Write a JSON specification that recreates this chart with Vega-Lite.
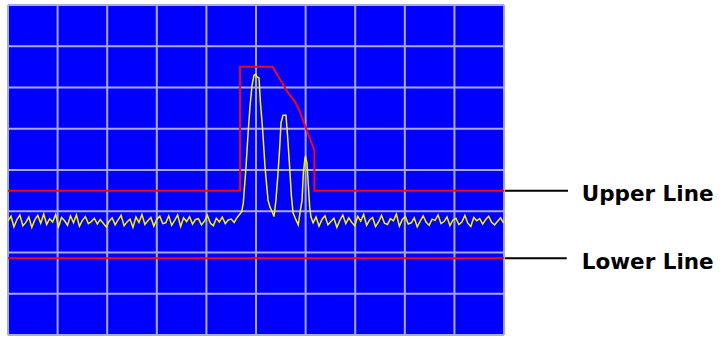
{
  "$schema": "https://vega.github.io/schema/vega-lite/v6.json",
  "width": 721,
  "height": 337,
  "autosize": {"type": "fit", "contains": "padding"},
  "padding": 0,
  "background": "white",
  "config": {"view": {"stroke": null}},
  "datasets": {
    "screen": [{"x": 0, "y": -80, "x2": 500, "y2": 0}],
    "grid": [
      {"x": 0, "y": -80, "x2": 0, "y2": 0},
      {"x": 50, "y": -80, "x2": 50, "y2": 0},
      {"x": 100, "y": -80, "x2": 100, "y2": 0},
      {"x": 150, "y": -80, "x2": 150, "y2": 0},
      {"x": 200, "y": -80, "x2": 200, "y2": 0},
      {"x": 250, "y": -80, "x2": 250, "y2": 0},
      {"x": 300, "y": -80, "x2": 300, "y2": 0},
      {"x": 350, "y": -80, "x2": 350, "y2": 0},
      {"x": 400, "y": -80, "x2": 400, "y2": 0},
      {"x": 450, "y": -80, "x2": 450, "y2": 0},
      {"x": 500, "y": -80, "x2": 500, "y2": 0},
      {"x": 0, "y": 0, "x2": 500, "y2": 0},
      {"x": 0, "y": -10, "x2": 500, "y2": -10},
      {"x": 0, "y": -20, "x2": 500, "y2": -20},
      {"x": 0, "y": -30, "x2": 500, "y2": -30},
      {"x": 0, "y": -40, "x2": 500, "y2": -40},
      {"x": 0, "y": -50, "x2": 500, "y2": -50},
      {"x": 0, "y": -60, "x2": 500, "y2": -60},
      {"x": 0, "y": -70, "x2": 500, "y2": -70},
      {"x": 0, "y": -80, "x2": 500, "y2": -80}
    ],
    "limits": [
      {"series": "upper", "seq": 1, "x": 0, "y": -45},
      {"series": "upper", "seq": 2, "x": 233.9, "y": -45},
      {"series": "upper", "seq": 3, "x": 233.9, "y": -15},
      {"series": "upper", "seq": 4, "x": 266.8, "y": -15},
      {"series": "upper", "seq": 5, "x": 274.2, "y": -18.0},
      {"series": "upper", "seq": 6, "x": 281.5, "y": -21.0},
      {"series": "upper", "seq": 7, "x": 289.3, "y": -23.4},
      {"series": "upper", "seq": 8, "x": 294.3, "y": -25.9},
      {"series": "upper", "seq": 9, "x": 300.4, "y": -29.9},
      {"series": "upper", "seq": 10, "x": 308.8, "y": -35.2},
      {"series": "upper", "seq": 11, "x": 308.8, "y": -45},
      {"series": "upper", "seq": 12, "x": 500, "y": -45},
      {"series": "lower", "seq": 1, "x": 0, "y": -61.4},
      {"series": "lower", "seq": 2, "x": 500, "y": -61.4}
    ],
    "trace": [
      {"x":0,"y":-52.4},{"x":3,"y":-51.2},{"x":6,"y":-53.8},{"x":9,"y":-52.0},{"x":12,"y":-50.9},{"x":15,"y":-53.5},{"x":18,"y":-52.7},{"x":21,"y":-51.4},{"x":24,"y":-53.9},{"x":27,"y":-52.1},
      {"x":30,"y":-51.0},{"x":33,"y":-52.9},{"x":36,"y":-50.7},{"x":39,"y":-53.2},{"x":42,"y":-51.8},{"x":45,"y":-52.6},{"x":48,"y":-50.8},{"x":51,"y":-53.7},{"x":54,"y":-51.5},{"x":57,"y":-52.3},
      {"x":60,"y":-53.4},{"x":63,"y":-51.1},{"x":66,"y":-52.8},{"x":69,"y":-50.9},{"x":72,"y":-53.6},{"x":75,"y":-52.2},{"x":78,"y":-51.3},{"x":81,"y":-53.0},{"x":84,"y":-52.5},{"x":87,"y":-51.7},
      {"x":90,"y":-53.1},{"x":93,"y":-52.0},{"x":96,"y":-52.9},{"x":99,"y":-53.8},{"x":102,"y":-52.4},{"x":105,"y":-51.6},{"x":108,"y":-53.3},{"x":111,"y":-52.1},{"x":114,"y":-51.0},{"x":117,"y":-53.5},
      {"x":120,"y":-52.6},{"x":123,"y":-51.9},{"x":126,"y":-53.9},{"x":129,"y":-51.4},{"x":132,"y":-52.7},{"x":135,"y":-50.8},{"x":138,"y":-53.2},{"x":141,"y":-52.3},{"x":144,"y":-51.5},{"x":147,"y":-53.6},
      {"x":150,"y":-52.0},{"x":153,"y":-51.2},{"x":156,"y":-53.0},{"x":159,"y":-52.8},{"x":162,"y":-51.1},{"x":165,"y":-53.4},{"x":168,"y":-52.2},{"x":171,"y":-50.9},{"x":174,"y":-53.7},{"x":177,"y":-51.6},
      {"x":180,"y":-52.5},{"x":183,"y":-51.3},{"x":186,"y":-53.1},{"x":189,"y":-52.0},{"x":192,"y":-51.8},{"x":195,"y":-53.3},{"x":198,"y":-52.4},{"x":201,"y":-51.0},{"x":204,"y":-52.9},{"x":207,"y":-53.5},
      {"x":210,"y":-51.7},{"x":213,"y":-52.6},{"x":216,"y":-51.4},{"x":219,"y":-53.0},{"x":222,"y":-52.1},{"x":225,"y":-51.9},{"x":228,"y":-52.7},{"x":231,"y":-51.5},
      {"x":235.6,"y":-50.1},{"x":237.2,"y":-48.0},{"x":239.9,"y":-39.3},{"x":241.9,"y":-31.5},{"x":243.9,"y":-24.7},{"x":246.0,"y":-19.4},{"x":248.0,"y":-17.0},{"x":249.5,"y":-16.8},{"x":251.0,"y":-17.4},{"x":253.0,"y":-17.7},
      {"x":254.5,"y":-23.8},{"x":256.7,"y":-30.3},{"x":259.1,"y":-39.3},{"x":262.1,"y":-47.3},{"x":264.1,"y":-49.0},{"x":266.8,"y":-50.4},{"x":268.1,"y":-51.3},{"x":270.1,"y":-47.3},{"x":272.2,"y":-40.7},{"x":273.9,"y":-34.4},
      {"x":275.2,"y":-28.6},{"x":277.2,"y":-26.7},{"x":280.2,"y":-26.7},{"x":281.9,"y":-32.0},{"x":283.9,"y":-39.3},{"x":285.6,"y":-46.1},{"x":287.3,"y":-50.4},{"x":290.3,"y":-52.1},{"x":292.6,"y":-53.3},{"x":294.3,"y":-50.4},
      {"x":296.4,"y":-47.3},{"x":297.7,"y":-40.7},{"x":299.4,"y":-37.1},{"x":299.9,"y":-36.8},{"x":301.4,"y":-38.3},{"x":302.4,"y":-42.4},{"x":304.1,"y":-49.0},{"x":305.4,"y":-51.4},
      {"x":307.5,"y":-52.8},{"x":310.5,"y":-51.4},{"x":313.5,"y":-53.6},{"x":316.5,"y":-52.0},{"x":319.5,"y":-51.1},{"x":322.5,"y":-53.3},{"x":325.5,"y":-52.5},{"x":328.5,"y":-51.7},{"x":331.5,"y":-53.9},{"x":334.5,"y":-52.2},
      {"x":337.5,"y":-50.9},{"x":340.5,"y":-53.0},{"x":343.5,"y":-51.6},{"x":346.5,"y":-52.7},{"x":349.5,"y":-53.5},{"x":352.5,"y":-51.2},{"x":355.5,"y":-52.4},{"x":358.5,"y":-50.8},{"x":361.5,"y":-53.4},{"x":364.5,"y":-52.1},
      {"x":367.5,"y":-51.5},{"x":370.5,"y":-53.7},{"x":373.5,"y":-52.6},{"x":376.5,"y":-51.0},{"x":379.5,"y":-52.9},{"x":382.5,"y":-53.2},{"x":385.5,"y":-51.8},{"x":388.5,"y":-52.3},{"x":391.5,"y":-50.7},{"x":394.5,"y":-53.6},
      {"x":397.5,"y":-52.0},{"x":400.5,"y":-51.3},{"x":403.5,"y":-53.1},{"x":406.5,"y":-52.8},{"x":409.5,"y":-51.6},{"x":412.5,"y":-53.8},{"x":415.5,"y":-52.4},{"x":418.5,"y":-51.1},{"x":421.5,"y":-52.7},{"x":424.5,"y":-53.4},
      {"x":427.5,"y":-51.9},{"x":430.5,"y":-52.2},{"x":433.5,"y":-50.9},{"x":436.5,"y":-53.0},{"x":439.5,"y":-52.5},{"x":442.5,"y":-51.4},{"x":445.5,"y":-53.5},{"x":448.5,"y":-52.1},{"x":451.5,"y":-51.7},{"x":454.5,"y":-53.2},
      {"x":457.5,"y":-52.6},{"x":460.5,"y":-51.0},{"x":463.5,"y":-52.9},{"x":466.5,"y":-53.7},{"x":469.5,"y":-51.5},{"x":472.5,"y":-52.3},{"x":475.5,"y":-51.8},{"x":478.5,"y":-53.1},{"x":481.5,"y":-52.0},{"x":484.5,"y":-51.2},
      {"x":487.5,"y":-52.7},{"x":490.5,"y":-53.3},{"x":493.5,"y":-52.4},{"x":496.5,"y":-51.6},{"x":499.5,"y":-52.8}
    ],
    "callouts": [
      {"x": 501, "y": -45, "x2": 564.5, "y2": -45},
      {"x": 501, "y": -61.4, "x2": 563.2, "y2": -61.4}
    ],
    "labels": [
      {"x": 578.3, "y": -47.5, "label": "Upper Line"},
      {"x": 578.3, "y": -64.1, "label": "Lower Line"}
    ]
  },
  "encoding": {
    "x": {"field": "x", "type": "quantitative", "scale": {"domain": [-8.06, 718.7], "nice": false, "zero": false}, "axis": null},
    "y": {"field": "y", "type": "quantitative", "scale": {"domain": [-80.48, 1.21], "nice": false, "zero": false}, "axis": null}
  },
  "layer": [
    {
      "data": {"name": "screen"},
      "mark": {"type": "rect", "color": "#0000ff"},
      "encoding": {"x2": {"field": "x2"}, "y2": {"field": "y2"}}
    },
    {
      "data": {"name": "grid"},
      "mark": {"type": "rule", "color": "#a9a9e6", "strokeWidth": 2},
      "encoding": {"x2": {"field": "x2"}, "y2": {"field": "y2"}}
    },
    {
      "data": {"name": "trace"},
      "mark": {"type": "line", "color": "#f5f500", "strokeWidth": 1.5},
      "encoding": {}
    },
    {
      "data": {"name": "limits"},
      "mark": {"type": "line", "color": "#ea0a1e", "strokeWidth": 2},
      "encoding": {
        "detail": {"field": "series", "type": "nominal"},
        "order": {"field": "seq", "type": "quantitative"}
      }
    },
    {
      "data": {"name": "callouts"},
      "mark": {"type": "rule", "color": "#000000", "strokeWidth": 2},
      "encoding": {"x2": {"field": "x2"}, "y2": {"field": "y2"}}
    },
    {
      "data": {"name": "labels"},
      "mark": {"type": "text", "font": "DejaVu Sans", "fontWeight": "bold", "fontSize": 21.5, "align": "left", "baseline": "alphabetic", "color": "#000000"},
      "encoding": {"text": {"field": "label", "type": "nominal"}}
    }
  ]
}
